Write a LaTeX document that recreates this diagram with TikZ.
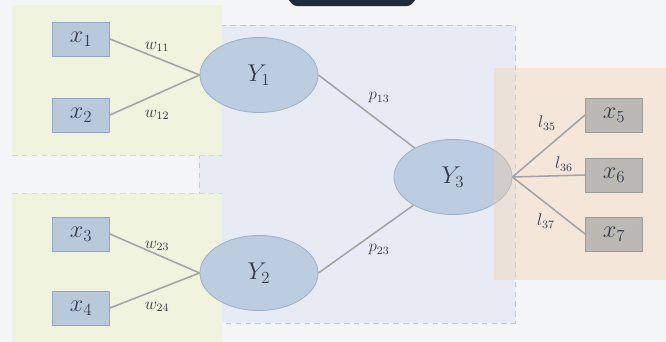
\documentclass[tikz,border=0pt]{standalone}
\usetikzlibrary{shapes.geometric}
\definecolor{paper}{HTML}{F4F5F6}
\definecolor{bluezone}{HTML}{E7ECF4}
\definecolor{bluezoneline}{HTML}{C6CAD2}
\definecolor{greenzone}{HTML}{F0F3DD}
\definecolor{greenzoneline}{HTML}{D9DCC8}
\definecolor{orangezone}{HTML}{F4CEA4}
\definecolor{boxfill}{HTML}{B9C9DC}
\definecolor{boxline}{HTML}{93A7BF}
\definecolor{grayfill}{HTML}{BAB9B3}
\definecolor{grayline}{HTML}{9D9C97}
\definecolor{lvfill}{HTML}{BDCDE0}
\definecolor{lvline}{HTML}{9FB2C8}
\definecolor{linkc}{HTML}{A4A4A4}
\definecolor{ink}{HTML}{353A48}
\definecolor{tab}{HTML}{1E2B3B}
\tikzset{
  obs/.style={rectangle, draw=boxline, fill=boxfill, line width=0.6pt,
    minimum width=1.425cm, minimum height=0.85cm, inner sep=0pt,
    text=ink, font=\fontsize{18}{20}\selectfont},
  obsgray/.style={obs, draw=grayline, fill=grayfill},
  latent/.style={ellipse, draw=lvline, fill=lvfill, line width=0.6pt,
    minimum width=2.95cm, minimum height=1.875cm, inner sep=0pt,
    text=ink, font=\fontsize{17}{20}\selectfont},
  coef/.style={inner sep=1pt, text=ink, font=\fontsize{12}{14}\selectfont},
  link/.style={draw=linkc, line width=1.1pt},
  zone/.style={line width=0.6pt, dash pattern=on 4pt off 3pt},
}

\begin{document}
\begin{tikzpicture}[x=0.025cm, y=-0.025cm]
    \fill[paper] (0,0) rectangle (666,342);
    \useasboundingbox (0,0) rectangle (666,342);

    \filldraw[zone, fill=bluezone, draw=bluezoneline] (199,25) rectangle (515,323);
    \fill[greenzone] (12,5) rectangle (222,155);
    \fill[greenzone] (12,193) rectangle (222,342);
    \draw[zone, greenzoneline] (12,155) -- (222,155);
    \draw[zone, greenzoneline] (12,193) -- (222,193);

    \node[latent] (Y1) at (259,75) {$Y_1$};
    \node[latent] (Y2) at (259,273) {$Y_2$};
    \node[latent] (Y3) at (453,177) {$Y_3$};

    \node[obs] (x1) at (81,39) {$x_1$};
    \node[obs] (x2) at (81,115) {$x_2$};
    \node[obs] (x3) at (81,234) {$x_3$};
    \node[obs] (x4) at (81,308) {$x_4$};

    \fill[orangezone, fill opacity=0.35] (494,68) rectangle (666,280);

    \node[obsgray] (x5) at (614,115) {$x_5$};
    \node[obsgray] (x6) at (614,175) {$x_6$};
    \node[obsgray] (x7) at (614,234) {$x_7$};

    \draw[link] (x1.east) -- (Y1.west);
    \draw[link] (x2.east) -- (Y1.west);
    \draw[link] (x3.east) -- (Y2.west);
    \draw[link] (x4.east) -- (Y2.west);
    \draw[link] (Y1.east) -- (Y3);
    \draw[link] (Y2.east) -- (Y3);
    \draw[link] (Y3.east) -- (x5.west);
    \draw[link] (Y3.east) -- (x6.west);
    \draw[link] (Y3.east) -- (x7.west);

    \node[coef] (w11) at (157,47) {$w_{11}$};
    \node[coef] (w12) at (157,115) {$w_{12}$};
    \node[coef] (w23) at (157,246) {$w_{23}$};
    \node[coef] (w24) at (157,307) {$w_{24}$};
    \node[coef] (p13) at (379,98) {$p_{13}$};
    \node[coef] (p23) at (379,250) {$p_{23}$};
    \node[coef] (l35) at (547,123) {$l_{35}$};
    \node[coef] (l36) at (564,164) {$l_{36}$};
    \node[coef] (l37) at (546,221) {$l_{37}$};

    \fill[tab, rounded corners=2pt] (287,-2) -- (294,6) -- (410,6) -- (417,-2) -- cycle;
\end{tikzpicture}
\end{document}
